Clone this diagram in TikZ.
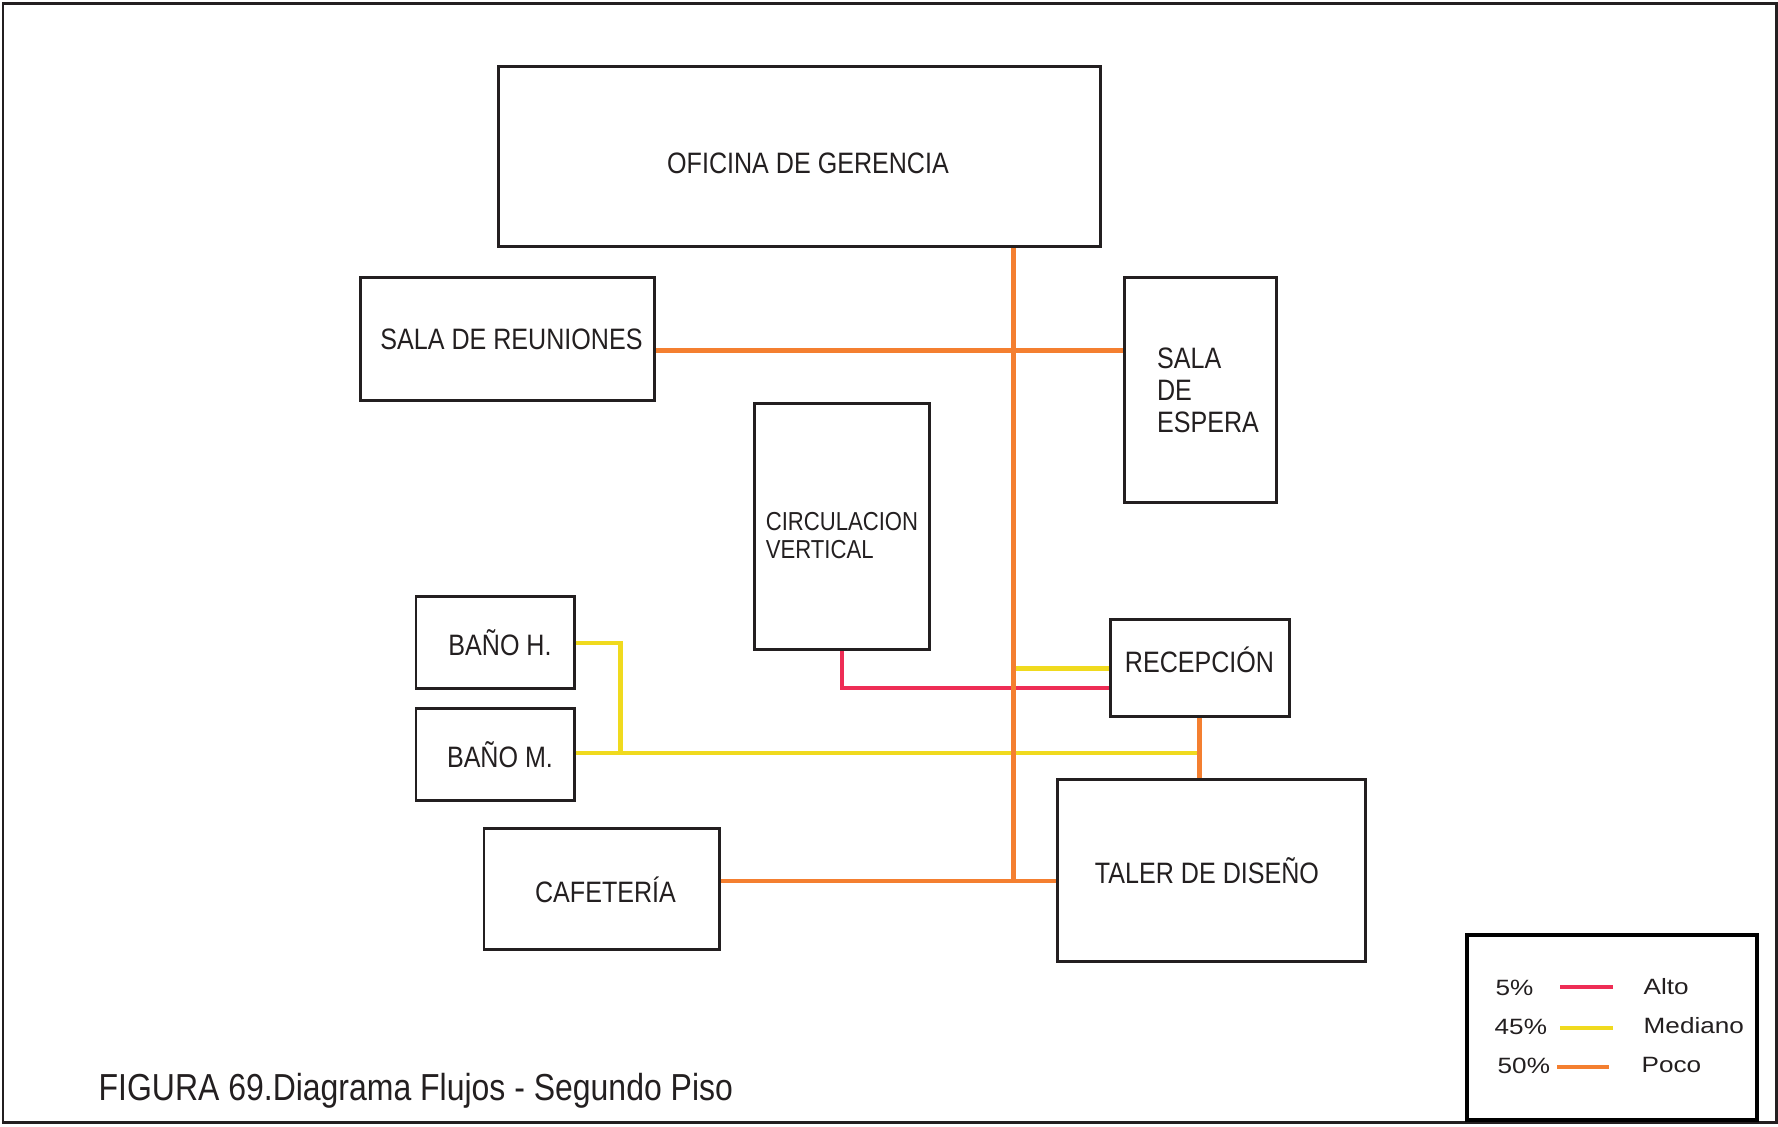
\documentclass[tikz,border=0pt]{standalone}
\usepackage{fontspec}
\setmainfont[FakeStretch=0.85]{Liberation Sans}
\newfontfamily\legendfont[FakeStretch=1.18]{Liberation Sans}
\usetikzlibrary{positioning}
\begin{document}
\begin{tikzpicture}[x=1cm,y=1cm,
  room/.style={draw=customcolor0,line width=0.85pt,text=customcolor0,font=\fontsize{8.4}{9.1}\selectfont,align=left},
  alto/.style={customcolor3,line width=1.4pt},
  mediano/.style={customcolor2,line width=1.4pt},
  poco/.style={customcolor1,line width=1.4pt},
  leyenda/.style={text=customcolor0,font=\legendfont\fontsize{6.3}{7.5}\selectfont,anchor=west,inner sep=0pt}]
\definecolor{customcolor0}{HTML}{231F20}
\definecolor{customcolor1}{HTML}{F47F30}
\definecolor{customcolor2}{HTML}{F0DA1E}
\definecolor{customcolor3}{HTML}{EE2D55}
\useasboundingbox (0,0) rectangle (17.78,11.27);
\draw[customcolor0,line width=0.85pt] (0.03,0.04) rectangle (17.76,11.23);
% salas
\node[room,minimum width=6.02cm,minimum height=1.80cm,text height=0.33cm] (ofi) at (7.99,9.70) {\hspace*{0.18cm}OFICINA DE GERENCIA};
\node[room,minimum width=2.93cm,minimum height=1.23cm] (reun) at (5.075,7.875) {\hspace*{0.08cm}SALA DE REUNIONES};
\node[room,minimum width=1.52cm,minimum height=2.25cm] (esp) at (12.0,7.365) {\hspace*{0.16cm}SALA\\\hspace*{0.16cm}DE\\\hspace*{0.16cm}ESPERA};
\node[room,minimum width=1.74cm,minimum height=2.46cm,font=\fontsize{7.4}{8}\selectfont,text height=0.63cm] (circ) at (8.42,6.0) {CIRCULACION\\VERTICAL};
\node[room,minimum width=1.79cm,minimum height=0.97cm,text depth=0.18cm] (rec) at (11.995,4.585) {RECEPCIÓN};
\node[room,minimum width=1.58cm,minimum height=0.92cm] (banoh) at (4.95,4.84) {\hspace*{0.1cm}BAÑO H.};
\node[room,minimum width=1.58cm,minimum height=0.92cm] (banom) at (4.95,3.72) {\hspace*{0.1cm}BAÑO M.};
\node[room,minimum width=2.35cm,minimum height=1.21cm] (caf) at (6.015,2.375) {\hspace*{0.08cm}CAFETERÍA};
\node[room,minimum width=3.08cm,minimum height=1.82cm] (taller) at (12.11,2.56) {TALER DE DISEÑO\hspace*{0.08cm}};
% flujos
\coordinate (cruce) at (10.135,2.46);
\coordinate (reunout) at ([yshift=-0.11cm]reun.east);
\coordinate (recin) at ([yshift=-0.195cm]rec.west);
\coordinate (banomout) at ([yshift=0.02cm]banom.east);
\draw[alto] (circ.south) |- (recin);
\draw[mediano] (banomout) -- (banomout -| rec.south);
\draw[mediano] (banoh.east) -| ([xshift=0.45cm]banomout);
\draw[mediano] (rec.west) -- (rec.west -| cruce);
\draw[poco] (reunout) -- (reunout -| esp.west);
\draw[poco] (caf.east |- cruce) -- (taller.west |- cruce);
\draw[poco] (rec.south) -- (rec.south |- taller.north);
\draw[poco] (ofi.south -| cruce) -- (cruce);
% leyenda
\node[draw=black,line width=1.3pt,minimum width=2.90cm,minimum height=1.85cm] (ley) at (16.12,0.995) {};
\node[leyenda] (p5) at (14.95,1.39) {5\%};
\node[leyenda] (p45) at (14.94,1.0) {45\%};
\node[leyenda] (p50) at (14.97,0.61) {50\%};
\draw[alto] (15.60,1.40) -- (16.13,1.40);
\draw[mediano] (15.60,0.99) -- (16.13,0.99);
\draw[poco] (15.57,0.60) -- (16.09,0.60);
\node[leyenda] (alto) at (16.43,1.40) {Alto};
\node[leyenda] (med) at (16.43,1.01) {Mediano};
\node[leyenda] (poc) at (16.41,0.62) {Poco};
\node[text=customcolor0,font=\fontsize{10.7}{12}\selectfont,anchor=west,inner sep=0pt] (fig) at (0.98,0.36) {FIGURA 69.Diagrama Flujos - Segundo Piso};
\end{tikzpicture}
\end{document}
